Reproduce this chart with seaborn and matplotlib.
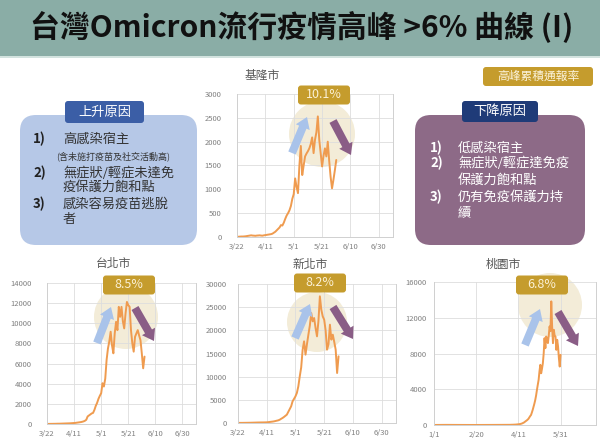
import matplotlib
matplotlib.use("Agg")
import matplotlib.pyplot as plt
from matplotlib.patches import FancyBboxPatch, FancyArrow, Circle, Rectangle
import pandas as pd
import seaborn as sns

sns.set_theme(style="white")
plt.rcParams["font.family"] = ["Noto Sans CJK TC", "DejaVu Sans"]

# ---------------- data ----------------
title = "台灣Omicron流行疫情高峰 >6% 曲線 (I)"
city_names = ["基隆市", "台北市", "新北市", "桃園市"]
peak_rates = ["10.1%", "8.5%", "8.2%", "6.8%"]
rate_label = "高峰累積通報率"

up_title = "上升原因"
up_items = [("1)", ["高感染宿主"]), ("2)", ["無症狀/輕症未達免", "疫保護力飽和點"]),
            ("3)", ["感染容易疫苗逃脫", "者"])]
up_note = "(含未施打疫苗及社交活動高)"
down_title = "下降原因"
down_items = [("1)", ["低感染宿主"]), ("2)", ["無症狀/輕症達免疫", "保護力飽和點"]),
              ("3)", ["仍有免疫保護力持", "續"])]

keelung_start = "2022-03-22"
keelung_cases = [5, 5, 8, 10, 10, 12, 15, 20, 25, 30, 35, 30, 28, 25, 30, 32, 35, 30, 28, 35,
                 40, 45, 50, 55, 60, 70, 90, 110, 140, 170,
                 200, 250, 240, 300, 380, 450, 500, 560, 650, 800,
                 900, 1230, 1050, 920, 1500, 1910, 1300, 1500, 1690, 1750,
                 1800, 1860, 1950, 2090, 1760, 2040, 2200, 2530, 2040, 1760,
                 1480, 1700, 1860, 1690, 2000, 1600, 1265, 1020, 1200, 1400, 1616]

taipei_start = "2022-03-22"
taipei_cases = [10, 10, 12, 15, 15, 20, 20, 25, 30, 30, 35, 40, 45, 50, 55, 60, 65, 70, 80, 90,
                100, 110, 130, 150, 170, 190, 220, 260, 320, 420,
                750, 850, 950, 1050, 1100, 1400, 1800, 2100, 2500, 2800,
                3060, 4050, 3720, 4500, 6360, 7500, 8200, 9160, 7800, 7020,
                9000, 10150, 9320, 11630, 10640, 11630, 10200, 9490, 11000, 12120,
                11800, 11630, 9320, 8000, 7180, 8660, 9000, 9320, 8800, 8330, 7000, 5530, 6690]

newtaipei_start = "2022-03-22"
newtaipei_cases = [20, 25, 30, 30, 35, 40, 45, 50, 55, 60, 70, 80, 90, 100, 110, 115, 120, 125, 130, 140,
                   150, 180, 220, 260, 300, 350, 420, 500, 575, 700,
                   900, 1080, 1300, 1550, 1800, 2400, 3000, 3600, 4680, 5200,
                   5750, 6500, 7900, 10070, 12000, 15830, 17630, 14750, 17000, 19060,
                   21000, 23740, 21940, 22660, 20500, 18700, 22000, 27340, 24460, 23000,
                   22300, 20000, 15830, 17000, 21220, 17990, 19060, 17500, 15830, 10790, 14390]

taoyuan_early_dates = ["2022-01-01", "2022-01-15", "2022-02-01", "2022-02-20", "2022-03-10", "2022-03-31"]
taoyuan_early_cases = [5, 15, 8, 3, 10, 20]
taoyuan_start = "2022-04-01"
taoyuan_cases = [20, 25, 30, 30, 35, 40, 45, 50, 60, 70,
                 80, 95, 110, 130, 160, 200, 250, 300, 380, 450,
                 520, 600, 700, 850, 1000, 1120, 1400, 1700, 2050, 2400,
                 2800, 3300, 3925, 4500, 5050, 6000, 6730, 5790, 6300, 6900,
                 8000, 9720, 8600, 9900, 9500, 9160, 10000, 11030, 10500, 13830,
                 11030, 9160, 10650, 10000, 9900, 8410, 9530, 8800, 7500, 6540, 7850]

spring_ticks = ["2022-03-22", "2022-04-11", "2022-05-01", "2022-05-21", "2022-06-10", "2022-06-30"]
year_ticks = ["2022-01-01", "2022-02-20", "2022-04-11", "2022-05-31"]
keelung_yticks = [0, 500, 1000, 1500, 2000, 2500, 3000]
taipei_yticks = [0, 2000, 4000, 6000, 8000, 10000, 12000, 14000]
newtaipei_yticks = [0, 5000, 10000, 15000, 20000, 25000, 30000]
taoyuan_yticks = [0, 4000, 8000, 12000, 16000]

# ---------------- style ----------------
W, H = 600, 448
ORANGE = "#ef9b4f"
GOLD = "#c59c2d"
GRID = "#dddddd"
TICK = "#808080"

fig = plt.figure(figsize=(W / 100, H / 100), dpi=100, facecolor="white")

bg = fig.add_axes([0, 0, 1, 1], zorder=-1)
fg = fig.add_axes([0, 0, 1, 1], zorder=5)
for a in (bg, fg):
    a.set_xlim(0, W)
    a.set_ylim(H, 0)
    a.axis("off")

# title band
bg.add_patch(Rectangle((0, 0), W, 56, color="#8aada6", lw=0))
bg.add_patch(Rectangle((0, 56), W, 2.5, color="#d3e3df", lw=0))
bg.text(302, 27, title, ha="center", va="center", fontsize=21.5, fontweight="bold", color="#111111")


def series(start, cases, early_dates=None, early_cases=None):
    d = pd.DataFrame({"date": pd.date_range(start, periods=len(cases)), "cases": cases})
    if early_dates:
        e = pd.DataFrame({"date": pd.to_datetime(early_dates), "cases": early_cases})
        d = pd.concat([e, d], ignore_index=True)
    return d


def draw_city(px, df, yticks, xticks, xlim, ypad):
    l, t, r, b = px
    ax = fig.add_axes([l / W, 1 - b / H, (r - l) / W, (b - t) / H], zorder=1)
    ax.set_facecolor("none")
    sns.lineplot(data=df, x="date", y="cases", color=ORANGE, lw=1.4, ax=ax)
    ax.set_ylim(0, yticks[-1])
    ax.set_yticks(yticks)
    ax.set_yticklabels([str(v) for v in yticks])
    xt = pd.to_datetime(xticks)
    ax.set_xlim(pd.Timestamp(xlim[0]), pd.Timestamp(xlim[1]))
    ax.set_xticks(xt)
    ax.set_xticklabels([f"{d.month}/{d.day}" for d in xt])
    ax.set_xlabel("")
    ax.set_ylabel("")
    ax.grid(True, color=GRID, lw=0.6)
    ax.spines["top"].set_visible(False)
    for s in ("left", "bottom", "right"):
        ax.spines[s].set_color("#d0d0d0")
        ax.spines[s].set_linewidth(0.7)
    ax.tick_params(axis="both", length=0, labelsize=5.5, labelcolor=TICK)
    ax.tick_params(axis="y", pad=ypad)
    ax.tick_params(axis="x", pad=4)
    return ax


draw_city((237, 94, 393, 237), series(keelung_start, keelung_cases), keelung_yticks,
          spring_ticks, ("2022-03-22", "2022-07-10"), 11)
draw_city((47, 283, 196, 424), series(taipei_start, taipei_cases), taipei_yticks,
          spring_ticks, ("2022-03-22", "2022-07-10"), 11)
draw_city((238, 284, 396, 423), series(newtaipei_start, newtaipei_cases), newtaipei_yticks,
          spring_ticks, ("2022-03-22", "2022-07-10"), 8)
draw_city((434, 282, 596, 425),
          series(taoyuan_start, taoyuan_cases, taoyuan_early_dates, taoyuan_early_cases),
          taoyuan_yticks, year_ticks, ("2022-01-01", "2022-07-12"), 5)

# peak annotations: (title xy, box center, circle center, radius, blue arrow, purple arrow)
marks = [
    ((262, 75), (324, 95), (322, 134), 33, (292, 153, 15, -36), (333, 121, 18, 34)),
    ((113, 263), (129, 285), (126, 317), 32, (97, 343, 14, -36), (135, 308, 19, 33)),
    ((310, 264), (320, 283), (317, 322), 30, (295, 338, 15, -34), (333, 307, 20, 32)),
    ((503, 264), (542, 285), (550, 305), 32, (525, 345, 15, -36), (558, 312, 20, 34)),
]
for name, rate, (txy, bxy, cxy, rad, ba, pa) in zip(city_names, peak_rates, marks):
    bg.text(txy[0], txy[1], name, ha="center", va="center", fontsize=8.5, color="#595959")
    bg.add_patch(Circle(cxy, rad, color="#efe6cb", alpha=0.75, lw=0))
    fg.add_patch(FancyArrow(ba[0], ba[1], ba[2], ba[3], width=8, head_width=15, head_length=11,
                            length_includes_head=True, color="#a9c3ea", lw=0))
    fg.add_patch(FancyArrow(pa[0], pa[1], pa[2], pa[3], width=8, head_width=15, head_length=11,
                            length_includes_head=True, color="#8a5d86", lw=0))
    fg.add_patch(FancyBboxPatch((bxy[0] - 26, bxy[1] - 9.5), 52, 19,
                                boxstyle="round,pad=0,rounding_size=3", color=GOLD, lw=0))
    fg.text(bxy[0], bxy[1], rate, ha="center", va="center", fontsize=9, color="#fbf1d6")

# rate label
bg.add_patch(FancyBboxPatch((483, 67), 110, 19, boxstyle="round,pad=0,rounding_size=3",
                            color=GOLD, lw=0))
bg.text(538, 76.5, rate_label, ha="center", va="center", fontsize=8.5, color="#fbf3dc")

# reason boxes
bg.add_patch(FancyBboxPatch((20, 115), 177, 130, boxstyle="round,pad=0,rounding_size=16",
                            color="#b6c8e7", lw=0))
bg.add_patch(FancyBboxPatch((65, 101), 79, 22, boxstyle="round,pad=0,rounding_size=3",
                            color="#3b5ea6", lw=0))
bg.text(104.5, 112, up_title, ha="center", va="center", fontsize=9.5, color="white")

bg.add_patch(FancyBboxPatch((415, 115), 170, 130, boxstyle="round,pad=0,rounding_size=16",
                            color="#8d6a87", lw=0))
bg.add_patch(FancyBboxPatch((462, 101), 76, 21, boxstyle="round,pad=0,rounding_size=3",
                            color="#1f3b78", lw=0))
bg.text(500, 111.5, down_title, ha="center", va="center", fontsize=9.5, color="white")

up_rows = {0: [139], 1: [173, 187.5], 2: [204, 219]}
for i, (num, lines) in enumerate(up_items):
    bg.text(33, up_rows[i][0], num, ha="left", va="center", fontsize=9.5, fontweight="bold", color="#222222")
    for j, line in enumerate(lines):
        bg.text(63, up_rows[i][j], line, ha="left", va="center", fontsize=9.5, color="#333333")
bg.text(113, 156, up_note, ha="center", va="center", fontsize=6.5, color="#333333")

down_rows = {0: [148], 1: [163, 180], 2: [197, 213]}
for i, (num, lines) in enumerate(down_items):
    bg.text(430, down_rows[i][0], num, ha="left", va="center", fontsize=9.5, fontweight="bold", color="white")
    for j, line in enumerate(lines):
        bg.text(458, down_rows[i][j], line, ha="left", va="center", fontsize=9.5, color="white")

fig.savefig("out.png", dpi=100, facecolor="white")
